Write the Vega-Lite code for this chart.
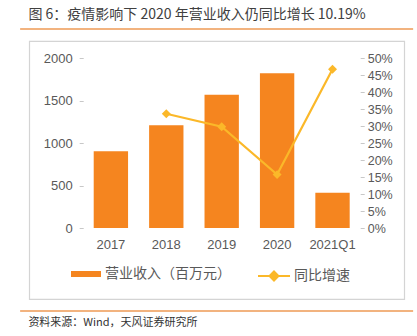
{
  "$schema": "https://vega.github.io/schema/vega-lite/v6.json",
  "background": "white",
  "padding": {"left": 19, "right": 5, "top": 8, "bottom": 5},
  "config": {
    "font": "Noto Sans CJK SC",
    "concat": {"spacing": 10},
    "view": {"stroke": "#d4d4d4", "strokeWidth": 1.2}
  },
  "center": true,
  "vconcat": [
    {
      "width": 393,
      "height": 1,
      "view": {"stroke": null},
      "title": {"text": "图 6：疫情影响下 2020 年营业收入仍同比增长 10.19%", "anchor": "start", "dx": 9, "fontSize": 14, "fontWeight": "normal", "color": "#404040", "offset": 6},
      "data": {"values": [{"a": 1}]},
      "mark": {"type": "rule", "color": "#EE9A55", "strokeWidth": 1.5},
      "encoding": {"y": {"value": 0}}
    },
    {
      "width": 375,
      "height": 258,
      "data": {"values": [
        {"year": "2017", "revenue": 902, "growth": null},
        {"year": "2018", "revenue": 1208, "growth": 0.336},
        {"year": "2019", "revenue": 1568, "growth": 0.298},
        {"year": "2020", "revenue": 1820, "growth": 0.157},
        {"year": "2021Q1", "revenue": 415, "growth": 0.467}
      ]},
      "encoding": {
        "x": {
          "field": "year", "type": "nominal",
          "scale": {"domain": ["2017", "2018", "2019", "2020", "2021Q1"], "paddingInner": 0, "paddingOuter": 0.884, "align": 0.551},
          "axis": {"title": null, "offset": -71, "domain": false, "ticks": false, "tickSize": 0, "labelPadding": 10, "labelAngle": 0, "labelFontSize": 13, "labelColor": "#595959", "labelFont": "Liberation Sans"}
        }
      },
      "layer": [
        {
          "mark": {"type": "bar", "width": {"band": 0.62}},
          "encoding": {
            "y": {
              "field": "revenue", "type": "quantitative",
              "scale": {"domain": [-835, 2200], "nice": false, "zero": false},
              "axis": {"title": null, "offset": -54, "values": [0, 500, 1000, 1500, 2000], "format": "d", "domain": false, "grid": false, "tickSize": 4, "tickColor": "#c8c8c8", "labelPadding": 7, "labelFontSize": 13, "labelColor": "#595959", "labelFont": "Liberation Sans"}
            },
            "y2": {"datum": 0},
            "fill": {
              "datum": "营业收入（百万元）",
              "scale": {"range": ["#F5851F"]},
              "legend": {"title": null, "orient": "none", "legendX": 51, "legendY": 230, "symbolType": "M-1,-0.2H1V0.2H-1Z", "symbolSize": 900, "symbolStrokeWidth": 0, "labelFontSize": 14, "labelColor": "#595959", "labelOffset": 4}
            }
          }
        },
        {
          "mark": {"type": "line", "strokeWidth": 2.2},
          "encoding": {
            "y": {
              "field": "growth", "type": "quantitative",
              "scale": {"domain": [-0.2088, 0.55], "nice": false, "zero": false},
              "axis": {"title": null, "orient": "right", "offset": -44, "values": [0, 0.05, 0.1, 0.15, 0.2, 0.25, 0.3, 0.35, 0.4, 0.45, 0.5], "format": ".0%", "labelOverlap": false, "domain": false, "grid": false, "tickSize": 4, "tickColor": "#c8c8c8", "labelPadding": 3, "labelFontSize": 12.5, "labelColor": "#595959", "labelFont": "Liberation Sans"}
            },
            "stroke": {
              "datum": "同比增速",
              "scale": {"range": ["#FBB829"]},
              "legend": {"title": null, "orient": "none", "legendX": 237, "legendY": 230, "symbolType": "M-1,0H1M0,-0.28L0.28,0L0,0.28L-0.28,0Z", "symbolSize": 1024, "symbolStrokeWidth": 2, "symbolFillColor": "#FBB829", "labelFontSize": 14, "labelColor": "#595959", "labelOffset": 3}
            }
          }
        },
        {
          "mark": {"type": "point", "shape": "diamond", "size": 80, "filled": true, "color": "#FBB829", "opacity": 1},
          "encoding": {
            "y": {"field": "growth", "type": "quantitative", "scale": {"domain": [-0.2088, 0.55], "nice": false, "zero": false}, "axis": null}
          }
        }
      ],
      "resolve": {"scale": {"y": "independent"}}
    },
    {
      "width": 393,
      "height": 1,
      "view": {"stroke": null},
      "title": {"text": "资料来源：Wind，天风证券研究所", "orient": "bottom", "anchor": "start", "dx": 9, "fontSize": 11, "fontWeight": "normal", "color": "#333333", "offset": 5},
      "data": {"values": [{"a": 1}]},
      "mark": {"type": "rule", "color": "#EE9A55", "strokeWidth": 1.5},
      "encoding": {"y": {"value": 0}}
    }
  ]
}
